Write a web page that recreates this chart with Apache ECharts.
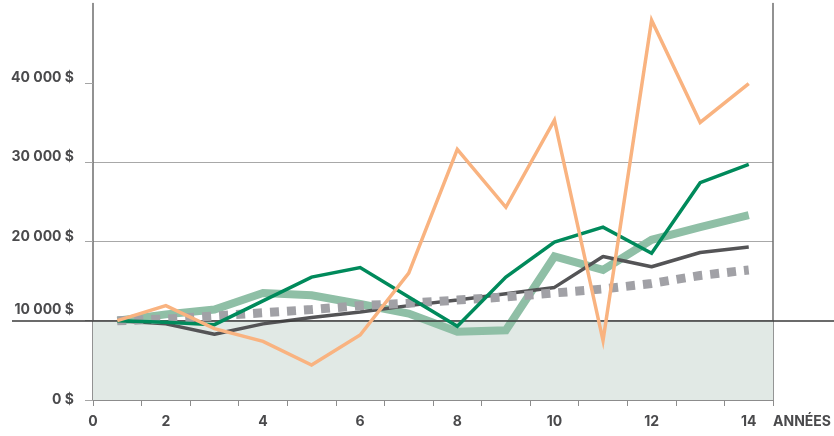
<!DOCTYPE html>
<html>
<head>
<meta charset="utf-8">
<script src="https://cdn.jsdelivr.net/npm/echarts@6/dist/echarts.min.js"></script>
<style>
  html, body { margin: 0; padding: 0; background: #fff; }
  #chart { width: 834px; height: 436px; }
</style>
</head>
<body>
<div id="chart"></div>
<script>
// années (catégories) et valeurs
const years = ['1', '2', '3', '4', '5', '6', '7', '8', '9', '10', '11', '12', '13', '14'];
const orange = [10000, 11900, 9000, 7400, 4400, 8200, 16000, 31600, 24300, 35300, 7500, 47900, 35000, 39900];
const darkGreen = [10000, 9800, 9500, 12500, 15500, 16700, 13000, 9300, 15500, 19900, 21800, 18500, 27400, 29700];
const lightGreen = [10000, 10800, 11400, 13500, 13200, 12100, 10900, 8600, 8800, 18100, 16400, 20200, 21800, 23300];
const darkGray = [10000, 9600, 8300, 9600, 10400, 11100, 11900, 12600, 13400, 14200, 18100, 16800, 18600, 19300];
const dotted = [10000, 10200, 10600, 11000, 11400, 11900, 12200, 12600, 13000, 13500, 14000, 14700, 15700, 16400];
const yTicks = [0, 10000, 20000, 30000, 40000];
const xZero = [0];
const baseLine = 10000;

const FONT = 'Inter, "Open Sans", sans-serif';
const TXT = '#4a4a4c';

function money(v) {
  return String(v).replace(/\B(?=(\d{3})+(?!\d))/g, ' ') + ' $';
}

const chart = echarts.init(document.getElementById('chart'), null, { renderer: 'canvas' });

const labelBase = { fontFamily: FONT, fontSize: 14, fontWeight: 700, color: TXT };

const option = {
  animation: false,
  grid: [
    { left: 93, right: 60, top: 3.5, bottom: 36 },
    { left: 12, right: 0, top: 3.5, bottom: 36 }
  ],
  xAxis: [
    {
      type: 'category',
      gridIndex: 0,
      data: years,
      boundaryGap: true,
      axisLine: { lineStyle: { color: '#8c8c8c', width: 1 } },
      axisTick: { show: true, interval: 0, length: 6, lineStyle: { color: '#8c8c8c' } },
      axisLabel: Object.assign({ interval: (i) => i % 2 === 1, margin: 15 }, labelBase),
      splitLine: { show: false },
      name: 'ANNÉES',
      nameLocation: 'end',
      nameGap: 0,
      nameTextStyle: Object.assign({ align: 'left', verticalAlign: 'top', padding: [15, 0, 0, 0] }, labelBase)
    },
    {
      type: 'value',
      gridIndex: 0,
      position: 'bottom',
      min: 0,
      max: 14,
      interval: 14,
      axisLine: { show: false },
      axisTick: { show: false },
      splitLine: { show: false },
      axisLabel: Object.assign({ customValues: xZero, margin: 15 }, labelBase)
    },
    { type: 'value', gridIndex: 1, min: 0, max: 1, show: false }
  ],
  yAxis: [
    {
      type: 'value',
      gridIndex: 0,
      min: 0,
      max: 50000,
      interval: 10000,
      axisLine: { show: true, lineStyle: { color: '#6e6e6e', width: 1.5 } },
      axisTick: { show: true, customValues: yTicks, length: 8, lineStyle: { color: '#a5a5a5' } },
      splitLine: { show: true, showMaxLine: false, showMinLine: false, lineStyle: { color: '#a8a8a8', width: 1 } },
      axisLabel: {
        customValues: yTicks,
        margin: 19,
        formatter: (v) => {
          const t = money(v);
          if (v === 10000) return '{hi|' + t + '}';
          if (v === 0) return '{lo|' + t + '}';
          return '{n|' + t + '}';
        },
        rich: {
          n: Object.assign({ padding: [0, 0, 10, 0] }, labelBase),
          hi: Object.assign({ padding: [0, 0, 22, 0] }, labelBase),
          lo: Object.assign({ padding: [0, 0, 1, 0] }, labelBase)
        }
      }
    },
    {
      type: 'value',
      gridIndex: 0,
      position: 'right',
      min: 0,
      max: 50000,
      axisLine: { show: true, lineStyle: { color: '#6e6e6e', width: 1.5 } },
      axisTick: { show: false },
      axisLabel: { show: false },
      splitLine: { show: false }
    },
    { type: 'value', gridIndex: 1, min: 0, max: 50000, show: false }
  ],
  series: [
    {
      // zone sous 10 000 $
      type: 'line',
      xAxisIndex: 0,
      yAxisIndex: 0,
      data: [],
      z: 1,
      silent: true,
      markArea: {
        silent: true,
        itemStyle: { color: '#e1e9e5' },
        data: [[{ yAxis: 0 }, { yAxis: baseLine }]]
      }
    },
    {
      // ligne de référence 10 000 $ (pleine largeur)
      type: 'line',
      xAxisIndex: 2,
      yAxisIndex: 2,
      data: [],
      z: 2,
      silent: true,
      markLine: {
        silent: true,
        symbol: 'none',
        label: { show: false },
        lineStyle: { color: '#3a3a3a', width: 1.5, type: 'solid' },
        data: [{ yAxis: baseLine }]
      }
    },
    {
      name: 'Série D',
      type: 'line',
      data: lightGreen,
      showSymbol: false,
      z: 3,
      lineStyle: { color: '#8fbfa6', width: 8, join: 'miter' }
    },
    {
      name: 'Série E',
      type: 'line',
      data: darkGray,
      showSymbol: false,
      z: 4,
      lineStyle: { color: '#545456', width: 3.5 }
    },
    {
      name: 'Série C',
      type: 'line',
      data: dotted,
      showSymbol: false,
      z: 5,
      lineStyle: { color: '#a1a1a6', width: 9, type: [9, 8], cap: 'butt' }
    },
    {
      name: 'Série B',
      type: 'line',
      data: darkGreen,
      showSymbol: false,
      z: 6,
      lineStyle: { color: '#008a5b', width: 3.5, join: 'miter' }
    },
    {
      name: 'Série A',
      type: 'line',
      data: orange,
      showSymbol: false,
      z: 7,
      lineStyle: { color: '#f9b380', width: 3.5, join: 'miter', miterLimit: 10 }
    }
  ]
};

chart.setOption(option);
</script>
</body>
</html>
